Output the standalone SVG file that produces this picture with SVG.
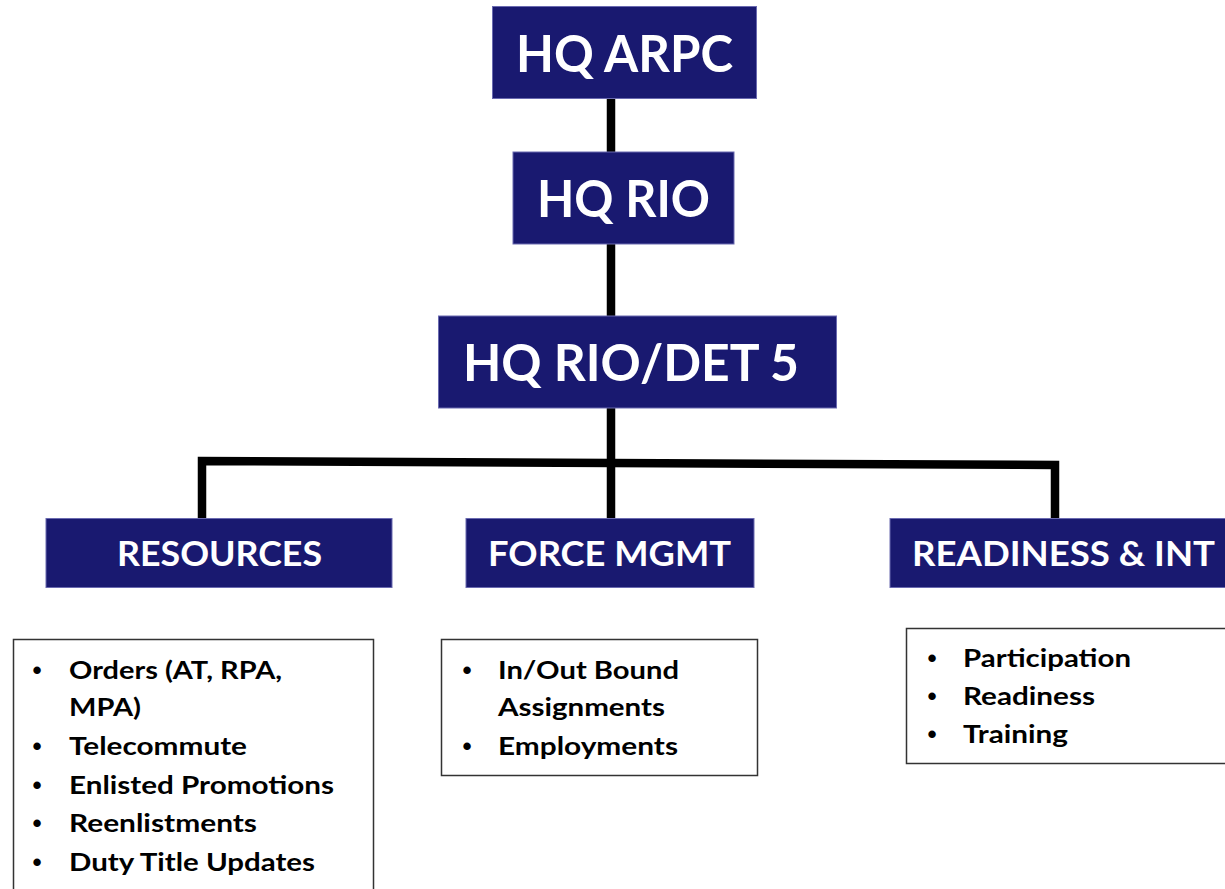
<svg xmlns="http://www.w3.org/2000/svg" width="1225" height="889" viewBox="0 0 1225 889">
  <style>
    .box { fill: #191970; stroke: #6a6ab0; stroke-width: 1; }
    .list { fill: #ffffff; stroke: #333333; stroke-width: 1.5; }
    .big { font-family: Lato, "Open Sans", sans-serif; font-weight: bold; fill: #ffffff; font-size: 52px; }
    .mid { font-family: Lato, "Open Sans", sans-serif; font-weight: bold; fill: #ffffff; font-size: 35px; }
    .item { font-family: Lato, "Open Sans", sans-serif; font-weight: bold; fill: #000000; font-size: 25px; }
    .bul { font-family: "Liberation Sans", Arial, sans-serif; font-weight: bold; fill: #000000; font-size: 26px; text-anchor: middle; }
    .conn { fill: none; stroke: #000000; stroke-width: 8.5; stroke-linejoin: miter; }
  </style>
  <rect width="1225" height="889" fill="#ffffff"/>

  <g id="connectors">
    <path class="conn" d="M611,98 V152"/>
    <path class="conn" d="M611,244 V316"/>
    <path class="conn" d="M611,408 V518"/>
    <path class="conn" d="M202,518 V461 L1055,465 V518"/>
  </g>

  <g id="hq-arpc">
    <rect class="box" x="492.5" y="6.5" width="264" height="92"/>
    <text class="big" x="516" y="72" textLength="217" lengthAdjust="spacingAndGlyphs">HQ ARPC</text>
  </g>

  <g id="hq-rio">
    <rect class="box" x="513" y="152" width="221" height="92"/>
    <text class="big" x="537" y="217" textLength="173" lengthAdjust="spacingAndGlyphs">HQ RIO</text>
  </g>

  <g id="hq-rio-det5">
    <rect class="box" x="438.5" y="316" width="398" height="92"/>
    <text class="big" x="463" y="381" textLength="336" lengthAdjust="spacingAndGlyphs">HQ RIO/DET 5</text>
  </g>

  <g id="resources">
    <rect class="box" x="46" y="518.5" width="346" height="69"/>
    <text class="mid" x="117" y="566" textLength="205" lengthAdjust="spacingAndGlyphs">RESOURCES</text>
  </g>

  <g id="force-mgmt">
    <rect class="box" x="466" y="518.5" width="288" height="69"/>
    <text class="mid" x="488" y="566" textLength="243" lengthAdjust="spacingAndGlyphs">FORCE MGMT</text>
  </g>

  <g id="readiness-int">
    <rect class="box" x="890" y="518.5" width="345" height="69"/>
    <text class="mid" x="912" y="566" textLength="303" lengthAdjust="spacingAndGlyphs">READINESS &amp; INT</text>
  </g>

  <g id="resources-list">
    <rect class="list" x="13.5" y="639.5" width="360" height="270"/>
    <text class="bul" x="37" y="679">•</text>
    <text class="item" x="69" y="679" textLength="213" lengthAdjust="spacingAndGlyphs">Orders (AT, RPA,</text>
    <text class="item" x="69" y="716" textLength="72" lengthAdjust="spacingAndGlyphs">MPA)</text>
    <text class="bul" x="37" y="755">•</text>
    <text class="item" x="69" y="755" textLength="178" lengthAdjust="spacingAndGlyphs">Telecommute</text>
    <text class="bul" x="37" y="794">•</text>
    <text class="item" x="69" y="794" textLength="265" lengthAdjust="spacingAndGlyphs">Enlisted Promotions</text>
    <text class="bul" x="37" y="832">•</text>
    <text class="item" x="69" y="832" textLength="188" lengthAdjust="spacingAndGlyphs">Reenlistments</text>
    <text class="bul" x="37" y="871">•</text>
    <text class="item" x="69" y="871" textLength="246" lengthAdjust="spacingAndGlyphs">Duty Title Updates</text>
  </g>

  <g id="force-mgmt-list">
    <rect class="list" x="441.5" y="639.5" width="316" height="136"/>
    <text class="bul" x="467" y="679">•</text>
    <text class="item" x="498" y="679" textLength="181" lengthAdjust="spacingAndGlyphs">In/Out Bound</text>
    <text class="item" x="498" y="716" textLength="167" lengthAdjust="spacingAndGlyphs">Assignments</text>
    <text class="bul" x="467" y="755">•</text>
    <text class="item" x="498" y="755" textLength="180" lengthAdjust="spacingAndGlyphs">Employments</text>
  </g>

  <g id="readiness-list">
    <rect class="list" x="906.5" y="628.5" width="330" height="135"/>
    <text class="bul" x="932" y="667">•</text>
    <text class="item" x="963" y="667" textLength="168" lengthAdjust="spacingAndGlyphs">Participation</text>
    <text class="bul" x="932" y="705">•</text>
    <text class="item" x="963" y="705" textLength="132" lengthAdjust="spacingAndGlyphs">Readiness</text>
    <text class="bul" x="932" y="743">•</text>
    <text class="item" x="963" y="743" textLength="105" lengthAdjust="spacingAndGlyphs">Training</text>
  </g>
</svg>
